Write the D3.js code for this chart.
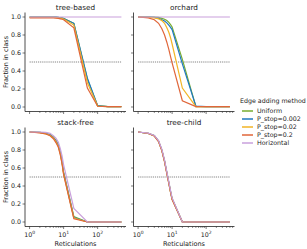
<!DOCTYPE html>
<html>
<head>
<meta charset="utf-8">
<script src="https://cdn.jsdelivr.net/npm/d3@7"></script>
<style>
	body { margin: 0; background: #fff; }
	svg { display: block; font-family: 'DejaVu Sans', sans-serif; }
</style>
</head>
<body>
<div id="chart"></div>
<script>
// x values (number of reticulations)
const reticulations = [1, 2, 3, 4, 5, 6, 7, 8, 9, 10, 20, 50, 100, 200, 500]
const methods = ['Uniform', 'P_stop=0.002', 'P_stop=0.02', 'P_stop=0.2', 'Horizontal']
const colors = ['#77ac30', '#1f78c1', '#f2b526', '#e0663a', '#c9a0dc']
const panelTitles = ['tree-based', 'orchard', 'stack-free', 'tree-child']
const yTicks = [0, 0.2, 0.4, 0.6, 0.8, 1.0]
const xTicks = [1, 10, 100]

// fraction in class, one row per method
const treeBased = [
	[1, 1, 1, 1, 1, 0.998, 0.995, 0.992, 0.99, 0.985, 0.93, 0.31, 0.015, 0.005, 0.005],
	[1, 1, 1, 1, 1, 0.998, 0.995, 0.99, 0.988, 0.983, 0.93, 0.32, 0.015, 0.005, 0.005],
	[0.995, 0.995, 0.995, 0.995, 0.995, 0.993, 0.99, 0.987, 0.983, 0.978, 0.91, 0.27, 0.01, 0.005, 0.005],
	[0.99, 0.99, 0.99, 0.99, 0.99, 0.988, 0.985, 0.98, 0.975, 0.97, 0.88, 0.21, 0.008, 0.005, 0.005],
	[1, 1, 1, 1, 1, 1, 1, 1, 1, 1, 1, 1, 1, 1, 1]
]
const orchard = [
	[1, 1, 1, 0.995, 0.985, 0.975, 0.96, 0.94, 0.915, 0.89, 0.53, 0.005, 0.005, 0.005, 0.005],
	[1, 1, 0.995, 0.985, 0.97, 0.955, 0.935, 0.91, 0.885, 0.86, 0.48, 0.01, 0.005, 0.005, 0.005],
	[1, 0.995, 0.99, 0.98, 0.96, 0.93, 0.88, 0.83, 0.77, 0.7, 0.21, 0.005, 0.005, 0.005, 0.005],
	[1, 0.99, 0.97, 0.93, 0.87, 0.8, 0.72, 0.64, 0.56, 0.49, 0.07, 0.005, 0.005, 0.005, 0.005],
	[1, 1, 1, 1, 1, 1, 1, 1, 1, 1, 1, 1, 1, 1, 1]
]
const stackFree = [
	[1, 0.995, 0.985, 0.97, 0.945, 0.905, 0.855, 0.77, 0.67, 0.55, 0.06, 0, 0, 0, 0],
	[1, 0.995, 0.985, 0.968, 0.94, 0.9, 0.85, 0.765, 0.665, 0.545, 0.05, 0, 0, 0, 0],
	[1, 0.993, 0.98, 0.963, 0.933, 0.89, 0.84, 0.755, 0.655, 0.535, 0.045, 0, 0, 0, 0],
	[1, 0.99, 0.978, 0.958, 0.925, 0.88, 0.83, 0.745, 0.645, 0.525, 0.035, 0, 0, 0, 0],
	[1, 1, 0.995, 0.985, 0.96, 0.93, 0.885, 0.815, 0.735, 0.635, 0.15, 0, 0, 0, 0]
]
const treeChild = [
	[1, 0.985, 0.96, 0.9, 0.8, 0.68, 0.55, 0.44, 0.34, 0.26, 0, 0, 0, 0, 0],
	[1, 0.985, 0.958, 0.897, 0.796, 0.676, 0.545, 0.435, 0.335, 0.255, 0, 0, 0, 0, 0],
	[1, 0.984, 0.957, 0.895, 0.793, 0.672, 0.542, 0.432, 0.332, 0.252, 0, 0, 0, 0, 0],
	[1, 0.983, 0.955, 0.893, 0.79, 0.668, 0.538, 0.428, 0.328, 0.248, 0, 0, 0, 0, 0],
	[1, 0.987, 0.962, 0.904, 0.806, 0.688, 0.558, 0.448, 0.348, 0.268, 0, 0, 0, 0, 0]
]
const panelData = [treeBased, orchard, stackFree, treeChild]

const width = 307
const height = 249
const axW = 101, axH = 99
const origins = [[25, 12.5], [133.5, 12.5], [25, 127.5], [133.5, 127.5]]

const svg = d3.select('#chart').append('svg')
	.attr('width', width)
	.attr('height', height)

// log x with matplotlib-style 5% margins
const lx0 = Math.log10(1), lx1 = Math.log10(500)
const pad = (lx1 - lx0) * 0.05
const x = d3.scaleLog()
	.domain([Math.pow(10, lx0 - pad), Math.pow(10, lx1 + pad)])
	.range([0, axW])
const y = d3.scaleLinear().domain([-0.05, 1.05]).range([axH, 0])

const minorTicks = []
;[1, 10, 100].forEach(d => { for (let k = 2; k <= 9; k++) if (d * k < x.domain()[1]) minorTicks.push(d * k) })

const line = d3.line()
	.x(d => x(d[0]))
	.y(d => y(d[1]))

panelData.forEach((series, p) => {
	const g = svg.append('g')
		.attr('transform', `translate(${origins[p][0]},${origins[p][1]})`)
	const isLeft = p % 2 == 0
	const isBottom = p >= 2

	// axes
	g.append('line').attr('x1', 0).attr('x2', 0).attr('y1', 0).attr('y2', axH)
		.attr('stroke', '#222').attr('stroke-width', 0.8)
	g.append('line').attr('x1', 0).attr('x2', axW).attr('y1', axH).attr('y2', axH)
		.attr('stroke', '#222').attr('stroke-width', 0.8)

	yTicks.forEach(t => {
		g.append('line').attr('x1', -2.5).attr('x2', 0).attr('y1', y(t)).attr('y2', y(t))
			.attr('stroke', '#222').attr('stroke-width', 0.6)
		if (isLeft) {
			g.append('text')
				.attr('x', -4).attr('y', y(t)).attr('dy', '0.35em')
				.attr('text-anchor', 'end')
				.style('font-size', '6.3px').style('fill', '#222')
				.text(t.toFixed(1))
		}
	})

	xTicks.forEach(t => {
		g.append('line').attr('x1', x(t)).attr('x2', x(t)).attr('y1', axH).attr('y2', axH + 2.5)
			.attr('stroke', '#222').attr('stroke-width', 0.6)
		if (isBottom) {
			const txt = g.append('text')
				.attr('x', x(t)).attr('y', axH + 10)
				.attr('text-anchor', 'middle')
				.style('font-size', '6.3px').style('fill', '#222')
			txt.append('tspan').text('10')
			txt.append('tspan').attr('dy', -2.5).style('font-size', '4.5px').text(Math.round(Math.log10(t)))
		}
	})
	minorTicks.forEach(t => {
		g.append('line').attr('x1', x(t)).attr('x2', x(t)).attr('y1', axH).attr('y2', axH + 1.5)
			.attr('stroke', '#222').attr('stroke-width', 0.5)
	})

	// 0.5 reference line
	g.append('path')
		.attr('d', line([[reticulations[0], 0.5], [reticulations[reticulations.length - 1], 0.5]]))
		.attr('stroke', '#333').attr('stroke-width', 0.6)
		.attr('stroke-dasharray', '1.2,0.9').attr('fill', 'none')

	series.forEach((vals, i) => {
		g.append('path')
			.attr('d', line(reticulations.map((r, j) => [r, vals[j]])))
			.attr('stroke', colors[i]).attr('stroke-width', 1.2)
			.attr('fill', 'none')
	})

	g.append('text')
		.attr('x', axW / 2).attr('y', -2.5)
		.attr('text-anchor', 'middle')
		.style('font-size', '7.3px').style('fill', '#222')
		.text(panelTitles[p])

	if (isLeft) {
		g.append('text')
			.attr('transform', `translate(-17,${axH / 2}) rotate(-90)`)
			.attr('text-anchor', 'middle')
			.style('font-size', '6.5px').style('fill', '#222')
			.text('Fraction in class')
	}
	if (isBottom) {
		g.append('text')
			.attr('x', axW / 2).attr('y', axH + 19)
			.attr('text-anchor', 'middle')
			.style('font-size', '6.5px').style('fill', '#222')
			.text('Reticulations')
	}
})

// legend
const legend = svg.append('g').attr('transform', 'translate(240,101)')
legend.append('text')
	.attr('x', 0).attr('y', 0).attr('dy', '0.35em')
	.style('font-size', '6.3px').style('fill', '#222')
	.text('Edge adding method')
methods.forEach((m, i) => {
	const yy = 10 + i * 8
	legend.append('line').attr('x1', 2).attr('x2', 13).attr('y1', yy).attr('y2', yy)
		.attr('stroke', colors[i]).attr('stroke-width', 1.5)
	legend.append('text')
		.attr('x', 17).attr('y', yy).attr('dy', '0.35em')
		.style('font-size', '6.3px').style('fill', '#222')
		.text(m)
})
</script>
</body>
</html>
